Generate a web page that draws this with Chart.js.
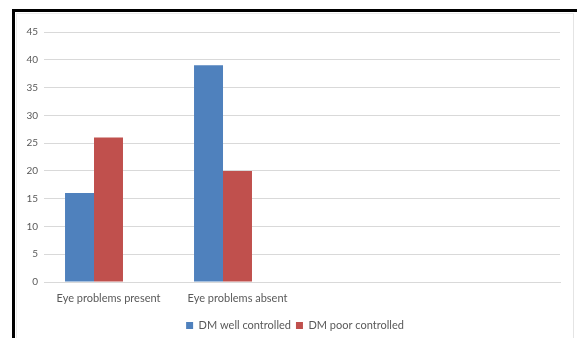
<!DOCTYPE html>
<html>
<head>
<meta charset="utf-8">
<script src="https://cdn.jsdelivr.net/npm/chart.js@4/dist/chart.umd.min.js"></script>
<style>
  html, body { margin: 0; padding: 0; background: #ffffff; }
  #wrap { position: relative; width: 577px; height: 338px; overflow: hidden; }
  #chart { position: absolute; left: 0; top: 0; }
  /* figure frame: heavy black edge on the top and left, faint edge on the right */
  #frame { position: absolute; left: 12px; top: 9px; width: 600px; height: 400px;
           border-left: 3px solid #000; border-top: 3px solid #000; box-sizing: border-box; }
  #inner { position: absolute; left: 16px; top: 13px; width: 558px; height: 400px;
           border-left: 1px solid #ececec; border-top: 1px solid #ececec; border-right: 1px solid #e4e4e4;
           box-sizing: border-box; }
</style>
</head>
<body>
<div id="wrap">
  <canvas id="chart" width="577" height="338"></canvas>
  <div id="frame"></div>
  <div id="inner"></div>
</div>
<script>
const categories = ['Eye problems present', 'Eye problems absent', '', ''];
const wellControlled = [16, 39, null, null];
const poorControlled = [26, 20, null, null];
const spareSeries = [null, null, null, null];
const yTicks = [0, 5, 10, 15, 20, 25, 30, 35, 40, 45];

const FONT = 'Lato, "Liberation Sans", sans-serif';
const TEXT = '#595959';
const GRID = '#d9d9d9';

// nudges the legend row to the right so it sits under the middle of the plot
const legendShift = {
  id: 'legendShift',
  afterLayout(chart) {
    if (chart.legend) { chart.legend.left += 8; chart.legend.right += 8; }
  }
};

new Chart(document.getElementById('chart'), {
  type: 'bar',
  data: {
    labels: categories,
    datasets: [
      { label: 'DM well controlled', data: wellControlled, backgroundColor: '#4f81bd' },
      { label: 'DM poor controlled', data: poorControlled, backgroundColor: '#c0504d' },
      { label: '', data: spareSeries, backgroundColor: '#9bbb59' }
    ]
  },
  plugins: [legendShift],
  options: {
    responsive: false,
    animation: false,
    devicePixelRatio: 1,
    layout: { padding: { left: 14, right: 17, top: 32, bottom: -3 } },
    datasets: { bar: { barPercentage: 1, categoryPercentage: 0.674 } },
    plugins: {
      tooltip: { enabled: false },
      legend: {
        position: 'bottom',
        labels: {
          boxWidth: 7, boxHeight: 7, padding: 5,
          color: TEXT, font: { family: FONT, size: 11 },
          filter: item => item.text !== ''
        }
      }
    },
    scales: {
      x: {
        grid: { display: false },
        border: { display: true, color: GRID, width: 1 },
        ticks: { color: TEXT, font: { family: FONT, size: 11 }, maxRotation: 0, autoSkip: false, padding: 2 },
        afterFit: s => { s.height = 33; }
      },
      y: {
        min: 0, max: 45,
        afterBuildTicks: s => { s.ticks = yTicks.map(v => ({ value: v })); },
        grid: { color: GRID, lineWidth: 1, drawTicks: false },
        border: { display: false },
        ticks: { color: TEXT, font: { family: FONT, size: 10 }, padding: 6 },
        afterFit: s => { s.width = 30; }
      }
    }
  }
});
</script>
</body>
</html>
